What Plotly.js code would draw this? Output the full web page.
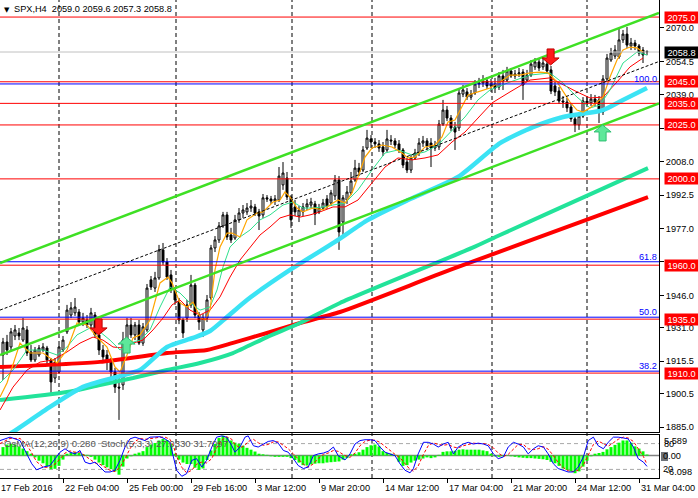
<!DOCTYPE html>
<html><head><meta charset="utf-8">
<script src="https://cdn.plot.ly/plotly-3.0.1.min.js"></script>
<style>html,body{margin:0;padding:0;background:#fff;}#chart{width:698px;height:498px;}</style>
</head><body><div id="chart"></div>
<script>
const symbolName = 'SPX,H4';
const open = [1918.4,1924.4,1922.1,1927.2,1928.6,1925.3,1930.0,1919.8,1916.1,1918.4,
1920.7,1921.6,1916.1,1907.7,1910.5,1920.7,1929.1,1936.9,1937.9,1938.3,
1933.7,1934.6,1932.3,1936.9,1927.7,1920.7,1918.4,1915.1,1910.5,1903.5,
1904.5,1925.3,1932.3,1927.7,1932.3,1923.9,1930.0,1953.2,1949.4,1954.1,
1967.1,1961.5,1955.5,1948.5,1942.9,1934.6,1935.5,1941.6,1950.8,1936.9,
1930.0,1935.5,1944.8,1968.0,1971.7,1978.2,1983.3,1974.0,1972.6,1981.0,
1984.2,1984.7,1986.5,1987.0,1984.7,1983.3,1991.2,1990.7,1989.8,1990.2,
1997.2,2000.4,1991.6,1987.0,1982.8,1984.7,1987.0,1987.9,1988.4,1984.7,
1986.5,1990.7,1988.8,1992.1,1999.5,1980.0,1990.2,1993.5,1999.5,2005.0,
2004.1,2014.3,2018.5,2017.1,2016.2,2014.8,2013.4,2018.0,2017.6,2016.2,
2013.4,2007.8,2004.1,2009.7,2012.0,2016.6,2017.6,2016.6,2014.3,2014.8,
2025.4,2031.9,2028.2,2024.0,2023.6,2039.3,2040.3,2037.9,2039.8,2044.0,
2044.4,2045.4,2043.1,2044.0,2042.6,2047.7,2045.8,2050.0,2047.7,2048.6,
2049.5,2045.8,2048.1,2051.9,2054.2,2051.9,2053.2,2050.5,2043.1,2040.7,
2036.1,2035.6,2033.3,2027.8,2025.0,2029.1,2036.1,2035.2,2037.0,2036.6,
2031.0,2046.3,2055.1,2056.9,2056.5,2064.4,2067.1,2061.6,2063.0,2061.6,
2059.7,2059.0];
const high = [1926.3,1927.7,1930.9,1932.3,1930.9,1935.5,1931.8,1923.0,1922.1,1923.0,
1923.9,1922.6,1917.0,1917.0,1923.0,1927.2,1941.6,1942.9,1944.8,1939.7,
1937.9,1936.9,1940.2,1938.3,1929.1,1923.0,1920.7,1917.0,1912.4,1909.1,
1929.1,1935.5,1935.5,1933.7,1934.6,1933.2,1951.3,1955.0,1956.9,1969.4,
1970.3,1963.3,1957.8,1949.9,1944.8,1935.5,1943.9,1955.5,1951.8,1938.3,
1937.4,1946.2,1969.4,1973.5,1980.0,1984.7,1984.7,1977.3,1983.3,1986.5,
1987.9,1988.8,1990.2,1988.4,1986.1,1993.0,1992.5,1992.1,1992.5,2005.5,
2007.8,2003.2,1992.5,1990.2,1987.4,1988.8,1990.7,1991.2,1989.8,1988.4,
1990.7,1992.5,1994.9,2001.8,2001.3,1992.5,1996.7,2003.2,2008.8,2007.4,
2015.2,2022.7,2020.3,2018.9,2018.0,2017.1,2022.7,2020.3,2018.9,2018.0,
2014.3,2009.7,2011.1,2013.9,2018.9,2019.9,2018.9,2018.9,2017.6,2027.3,
2036.6,2033.8,2029.6,2026.4,2042.1,2043.5,2042.1,2041.2,2045.8,2046.8,
2048.1,2047.2,2046.3,2046.8,2049.5,2050.5,2051.9,2051.4,2050.5,2051.4,
2050.9,2050.5,2055.1,2056.0,2056.0,2056.0,2056.0,2052.3,2044.9,2042.6,
2038.4,2037.5,2034.7,2029.6,2031.0,2037.9,2038.4,2039.3,2038.9,2038.4,
2048.1,2057.9,2060.7,2062.0,2069.9,2069.0,2070.4,2065.3,2064.4,2062.5,
2061.1,2059.6];
const low = [1906.8,1918.4,1920.7,1925.3,1925.3,1924.4,1917.9,1915.1,1915.1,1917.5,
1919.8,1913.8,1900.8,1905.4,1909.6,1919.8,1928.1,1935.5,1936.5,1932.3,
1931.8,1930.9,1930.9,1926.3,1918.4,1915.1,1911.4,1907.7,1900.8,1888.3,
1902.2,1923.0,1926.3,1925.3,1923.0,1922.6,1929.1,1948.5,1947.6,1953.2,
1960.1,1953.2,1947.1,1941.6,1932.7,1926.3,1933.7,1940.2,1935.5,1930.0,
1926.7,1933.7,1943.9,1966.1,1970.3,1977.3,1971.7,1970.3,1971.7,1979.6,
1981.9,1983.3,1984.7,1982.8,1976.3,1981.9,1989.3,1988.4,1987.9,1989.3,
1994.9,1990.2,1977.3,1982.8,1980.0,1982.8,1985.6,1986.5,1978.6,1983.7,
1985.6,1986.1,1987.4,1990.2,1967.1,1974.0,1988.4,1992.5,1998.6,2001.3,
2003.2,2013.4,2014.3,2014.3,2012.5,2010.6,2012.5,2015.7,2014.3,2012.0,
2005.0,2002.7,2002.7,2008.8,2010.6,2014.8,2013.4,2005.5,2012.9,2013.4,
2024.5,2026.8,2022.2,2013.4,2022.2,2037.9,2036.6,2036.6,2038.9,2042.1,
2042.6,2041.7,2040.3,2039.8,2041.2,2041.2,2044.9,2046.8,2046.3,2047.2,
2036.6,2044.9,2047.2,2050.5,2050.0,2050.5,2048.6,2039.3,2038.4,2034.7,
2032.9,2031.0,2026.4,2021.7,2022.7,2028.2,2033.8,2033.8,2033.8,2025.9,
2029.6,2044.9,2054.2,2055.6,2055.6,2063.0,2060.7,2059.7,2059.7,2056.9,
2053.7,2057.3];
const close = [1924.4,1920.7,1929.1,1930.0,1927.2,1930.9,1919.3,1916.1,1920.7,1921.6,
1922.1,1916.1,1905.9,1915.1,1922.1,1925.3,1939.2,1940.2,1940.6,1933.7,
1935.5,1932.3,1937.9,1927.7,1920.7,1917.5,1915.1,1910.5,1903.5,1903.1,
1925.3,1932.3,1927.7,1932.3,1923.9,1931.4,1949.4,1949.9,1954.1,1967.1,
1961.5,1954.5,1948.5,1943.9,1934.6,1928.6,1941.6,1950.8,1936.9,1933.7,
1935.5,1943.9,1968.0,1971.7,1978.2,1983.3,1973.1,1971.7,1981.0,1984.2,
1985.6,1986.5,1987.4,1984.2,1982.8,1991.2,1990.7,1989.8,1990.7,2001.3,
2002.7,1991.6,1981.0,1984.7,1985.6,1987.0,1988.4,1989.3,1983.7,1986.5,
1988.8,1987.4,1993.5,1999.5,1975.4,1991.2,1993.9,1999.0,2005.0,2003.2,
2013.4,2018.9,2017.1,2016.2,2014.3,2012.5,2018.5,2017.6,2015.7,2013.4,
2006.4,2004.1,2009.7,2012.0,2016.6,2017.6,2015.2,2014.3,2015.7,2025.4,
2031.9,2028.2,2023.6,2021.7,2039.8,2041.2,2037.9,2039.3,2044.0,2044.4,
2045.4,2043.1,2044.0,2042.1,2047.7,2045.4,2050.0,2047.7,2048.6,2049.1,
2043.5,2048.1,2053.2,2054.2,2051.4,2053.7,2050.0,2040.7,2040.3,2036.1,
2035.6,2032.9,2027.8,2025.0,2029.1,2036.1,2035.2,2037.0,2035.6,2031.5,
2046.3,2056.0,2058.3,2059.7,2064.4,2067.1,2062.0,2063.0,2061.6,2058.3,
2057.4,2058.8];

const osma = [2.3,3.0,3.2,3.0,2.5,1.9,1.2,0.5,-0.5,-1.4,
-2.1,-3.0,-3.7,-3.6,-2.8,-1.1,0.5,0.8,0.9,0.7,
0.4,0.2,-0.35,-1.1,-1.9,-2.6,-3.2,-3.7,-4.3,-5.2,
-3.0,-0.8,-0.2,0.5,0.8,1.2,2.3,3.0,3.4,4.1,
4.5,4.2,3.2,0.5,-1.1,-1.9,-2.3,-2.3,-3.3,-3.9,
-3.5,-1.2,1.4,3.2,4.8,5.4,5.0,4.1,3.5,3.2,
2.7,2.1,1.6,1.1,0.5,0.35,0.2,-0.2,-0.35,-0.35,
-0.35,-0.35,-0.7,-1.2,-1.9,-2.6,-2.7,-2.4,-2.2,-2.1,
-2.1,-1.9,-1.8,-1.7,-1.6,-1.1,-0.7,0.35,0.5,0.9,
1.6,2.3,2.8,3.0,2.5,1.2,0.7,0.5,0.2,-1.7,
-2.8,-2.6,-1.9,-1.4,-1.1,-0.8,-0.5,-0.7,-0.5,0.2,
1.0,1.15,1.15,1.3,1.6,1.7,1.6,1.6,1.6,1.6,
1.4,1.2,0.5,-0.2,-0.35,-0.2,-0.1,-0.2,-0.35,-0.5,
-0.6,-0.7,-0.7,-0.8,-0.9,-1.0,-1.2,-1.7,-2.1,-2.8,
-3.5,-3.9,-4.3,-4.8,-4.3,-3.0,-1.4,-0.2,0.5,0.7,
1.0,1.7,2.3,2.9,3.5,4.1,4.1,3.5,2.5,1.9,
1.15,0.28];

const stochX = [-0.75,1.75,4.25,5.9,7.2,8.4,10.1,11.75,13.4,14.25,
15.5,16.75,18,19.25,20.5,21.75,23,24.25,25.5,26.75,
28,29.25,30.5,31.75,33,34.25,35.5,36.75,38,39.25,
40.5,41.75,42.6,43.4,44.7,45.9,47.2,48.4,49.7,50.9,
52.2,53.4,54.7,55.9,57.2,58,59.25,60.5,61.3,62.6,
63.8,65.1,66.3,67.6,68.8,70.1,71.3,72.6,73.8,75.1,
76.3,77.6,78.8,80.1,81.3,82.6,83.8,85.5,86.75,88,
89.25,90.5,91.75,93,94.25,95.5,96.75,98,99.25,100.5,
101.75,102.6,103.8,105.1,106.3,107.6,108.8,110.1,111.3,112.6,
113.8,115.1,116.3,117.6,118.8,120.1,121.3,122.6,123.8,125.1,
126.3,127.6,128.8,130.1,131.3,132.6,133.8,135.1,136.3,137.6,
138.8,140.1,141.3,142.6,143.8,145.1,146.3,147.6,148.8,150.1,
151.3,152.6,153.8,155.1,156.3,157.6,158.8,160.1,161];
const stochMain = [87,95,87,56,33,19,25.5,29,49,60,
68,60,56,64,37,33,37,25.5,14,14,
18,41,72,91,95,91,87,95,96,96,
91,83,49,18,4,10,41,45,25.5,41,
72,95,98,95,75,60,72,95,98,75,
72,79,85,87,81,64,60,45,29,22,
25.5,52,56,58,62,72,52,42,56,79,
87,89,89,87,72,60,56,52,33,18,
12,22,56,83,83,79,72,79,83,56,
72,79,83,79,81,79,75,56,45,49,
72,83,79,72,56,68,75,72,56,33,
22,18,14,14,25.5,49,87,95,75,68,
83,95,95,93,91,72,45,37,27];
const stochSignal = [80,92,92,78,58,38,25,25,35,45,
58,63,60,60,52,42,35,32,25,18,
15,25,45,68,85,92,90,91,93,95,
95,90,75,50,25,12,18,32,37,35,
45,70,88,96,90,78,70,76,85,90,
82,76,78,84,84,76,68,56,44,32,
25,33,45,55,58,64,62,52,48,58,
75,85,88,88,83,73,63,55,47,33,
20,16,28,55,75,82,78,76,78,72,
70,75,78,81,80,80,78,70,58,50,
55,68,78,78,68,66,68,73,67,52,
36,24,17,15,18,30,55,78,86,80,
74,82,90,95,93,85,68,50,32];

const ma200X = [-0.75,24.25,41,51,57.5,66,74.25,84.25,111.75,149.25,161.25];
const ma200Y = [1912.8,1915.2,1919.3,1920.7,1924.0,1928.6,1933.2,1938.3,1957.8,1983.3,1991.6];
const ma100X = [-0.75,16,24.25,32.5,41,49.25,57.5,66,74.25,84.25,117.25,124.25,149.25,161.25];
const ma100Y = [1897.5,1901.2,1904.5,1907.7,1911.4,1914.7,1919.3,1926.7,1933.2,1942.5,1968.0,1974.0,1994.9,2005.0];
const ma50X = [-0.75,2.5,11.75,20,28.5,34.25,41,47.5,51.75,56,61,71.75,83,91.25,101.25,113.75,124.25,132.5,140,150,155,161];
const ma50Y = [1879.0,1882.7,1894.3,1903.6,1908.2,1911.4,1922.1,1926.3,1929.5,1936.0,1943.9,1957.8,1970.8,1981.0,1990.2,2000.9,2016.6,2024.0,2028.7,2031.9,2036.6,2042.1];

const fastX = [-0.75,1,4.25,6.75,10,13.5,16,18.5,21,23.5,26,28,29.25,31,32.5,34.25,36.75,39.25,41.25,42.25,
44.25,46,47.5,49.25,50.5,51.75,53,54.25,56,57.25,59.25,61,63.5,65,67.5,69.25,70.5,71.75,73.5,75,
77.5,80,82.5,83.75,85.5,87.25,88.75,90.5,92.25,94.75,97.25,99.75,101.25,103,105.5,108,109.75,111.25,113,114.75,
116.25,118.75,121.75,124.25,126.75,129.25,131.75,134.25,136.25,138.5,140,141.75,143.5,145,146.75,148.5,150,151.75,153.5,155,
156.75,158.5,160];
const fastY = [1898.9,1905.4,1923.9,1919.3,1919.3,1914.7,1920.7,1933.2,1932.3,1926.7,1922.1,1912.8,1910.5,1918.4,1926.3,1927.7,1934.6,1951.8,1954.5,1951.8,
1942.5,1940.6,1942.9,1936.0,1934.6,1939.2,1957.8,1968.4,1974.9,1974.9,1973.1,1981.0,1984.2,1984.7,1989.3,1990.2,1993.9,1991.6,1986.5,1984.7,
1986.5,1985.6,1988.8,1990.2,1988.8,1993.5,2000.9,2010.1,2014.3,2015.7,2014.8,2012.0,2009.7,2010.1,2014.8,2015.7,2019.4,2026.4,2027.3,2033.3,
2038.9,2040.3,2042.1,2044.9,2048.1,2048.1,2049.1,2049.5,2049.1,2044.9,2040.3,2035.6,2031.9,2031.0,2032.9,2035.6,2037.9,2047.2,2055.1,2059.7,
2061.1,2060.7,2058.8];
const midX = [-0.75,2.5,6,10,13.5,16,18.5,21.75,24.25,26.75,29.25,31.75,34.25,36.75,39.25,41.75,44.25,46.75,49.25,51.75,
53.5,55,56.75,59.25,61.75,64.25,66.75,70,72.5,75,77.5,80,82.5,85.5,88.75,92.25,95.5,98.75,102.25,105.5,
108.75,112.25,115.5,118.75,121.75,126.75,131.75,136.75,140,143.5,146.75,149.25,151.75,155,158.5,161];
const midY = [1905.4,1911.4,1920.7,1920.7,1918.4,1922.1,1927.7,1930.9,1929.1,1925.3,1920.7,1923.9,1925.3,1930.0,1940.6,1949.9,1947.1,1942.5,1939.2,1940.6,
1948.5,1959.2,1968.4,1973.1,1976.3,1981.0,1983.3,1987.9,1989.3,1986.5,1986.5,1987.0,1987.9,1988.8,1994.9,2004.1,2012.0,2013.4,2011.1,2012.5,
2015.7,2022.7,2028.7,2036.6,2041.2,2044.9,2048.1,2049.1,2044.4,2037.9,2032.9,2034.2,2041.2,2053.7,2058.8,2057.4];
const slowX = [-0.75,2.5,6,9.25,12.5,16,19.25,22.5,25,27.5,30,32.5,35,37.5,40,42.25,44.25,46.75,49.25,51.75,
54.25,56.75,59.25,61.75,64.25,66.75,69.25,71.75,74.25,76.75,79.25,82.5,85.5,88.75,92.25,95.5,98.75,102.25,105.5,108.75,
112.25,115.5,118.75,122.25,126.75,131.75,136.75,140,143.5,146.75,150,153.5,156.75,160];
const slowY = [1892.9,1903.5,1911.4,1915.1,1916.1,1919.8,1923.9,1926.7,1925.3,1922.1,1921.6,1923.9,1925.3,1930.0,1935.5,1941.6,1943.9,1939.2,1936.9,1939.2,
1945.3,1954.5,1962.4,1968.4,1974.0,1977.7,1981.9,1983.3,1982.3,1983.3,1984.7,1987.0,1987.0,1990.2,1998.1,2005.5,2009.7,2008.8,2009.7,2011.1,
2017.1,2021.7,2028.2,2035.2,2040.3,2045.8,2046.8,2043.5,2040.3,2037.5,2037.9,2044.9,2051.9,2056.0];

const priceTicks = [2070.0,2054.5,2039.0,2023.5,2008.0,1992.5,1977.0,1961.5,1946.0,1931.0,1915.5,1900.5,1885.0];
const hiddenTicks = [2023.5,1961.5];
const redLevels = [2075,2045,2035,2025,2000,1960,1935,1910];
const fibLevels = [2044.0,1961.6,1935.9,1910.9];
const fibLabels = ['100.0','61.8','50.0','38.2'];
const bidPrice = 2058.8;
const dateLabels = ['17 Feb 2016','22 Feb 04:00','25 Feb 00:00','29 Feb 16:00','3 Mar 12:00','9 Mar 20:00','14 Mar 12:00','17 Mar 04:00','21 Mar 20:00','24 Mar 12:00','31 Mar 04:00'];
const dateBars = [-0.75,15,31,47,63,79,95,111,127,143,159];
const gridBars = [14,43.25,72.25,92.25,122.25,146];
const trendBars = [-0.75,164];
const channelUpper = [1961.0,2076.9];
const channelLower = [1918.4,2035.0];
const trendBlack = [1939.2,2054.4];
const sellArrowBars = [23.9,136.9];
const sellArrowPrices = [1927.7,2052.8];
const buyArrowBars = [30.9,149.9];
const buyArrowPrices = [1926.7,2025.0];
const osmaRange = [-6.098,5.589];
const stochLevels = [80,20];
const indicatorValues = {osma:0.280, main:27.0330, signal:31.7097};

const FONT = 'Liberation Sans, Arial, sans-serif';
const FS = 9.2;
const n = open.length;
const bars = open.map((_, i) => i);
const xRange = [-0.75, 164];
const H = 478;
const P = (px) => (H - px) / H;

const traces = [
  {type:'candlestick', x:bars, open:open, high:high, low:low, close:close, xaxis:'x', yaxis:'y',
   increasing:{line:{color:'#000', width:1}, fillcolor:'#ffffff'},
   decreasing:{line:{color:'#000', width:1}, fillcolor:'#000000'},
   whiskerwidth:0, hoverinfo:'skip'},
  {type:'scatter', mode:'lines', x:ma200X, y:ma200Y, line:{color:'#ff0000', width:4, shape:'spline', smoothing:0.6}, hoverinfo:'skip'},
  {type:'scatter', mode:'lines', x:ma100X, y:ma100Y, line:{color:'#22e39a', width:4, shape:'spline', smoothing:0.6}, hoverinfo:'skip'},
  {type:'scatter', mode:'lines', x:ma50X, y:ma50Y, line:{color:'#3be3f4', width:4.5, shape:'spline', smoothing:0.6}, hoverinfo:'skip'},
  {type:'scatter', mode:'lines', x:slowX, y:slowY, line:{color:'#ff0000', width:1}, hoverinfo:'skip'},
  {type:'scatter', mode:'lines', x:midX, y:midY, line:{color:'#2fe08c', width:1}, hoverinfo:'skip'},
  {type:'scatter', mode:'lines', x:fastX, y:fastY, line:{color:'#ffa500', width:1.2}, hoverinfo:'skip'},
  {type:'bar', x:bars, y:osma, xaxis:'x2', yaxis:'y2', marker:{color:'#00ff00', line:{width:0}}, hoverinfo:'skip'},
  {type:'scatter', mode:'lines', x:stochX, y:stochSignal, xaxis:'x2', yaxis:'y3', line:{color:'#ff0000', width:1, dash:'3px,2px'}, hoverinfo:'skip'},
  {type:'scatter', mode:'lines', x:stochX, y:stochMain, xaxis:'x2', yaxis:'y3', line:{color:'#0000ff', width:1}, hoverinfo:'skip'}
];

const shapes = [];
gridBars.forEach(b => shapes.push({type:'line', xref:'x', yref:'paper', x0:b, x1:b, y0:0, y1:1, layer:'below', line:{color:'#000', width:1, dash:'4px,3px'}}));
shapes.push({type:'line', xref:'paper', yref:'y', x0:0, x1:1, y0:bidPrice, y1:bidPrice, line:{color:'#c0c0c0', width:1}});
redLevels.forEach(p => shapes.push({type:'line', xref:'paper', yref:'y', x0:0, x1:1, y0:p, y1:p, line:{color:'#ff0000', width:1}}));
fibLevels.forEach(p => shapes.push({type:'line', xref:'paper', yref:'y', x0:0, x1:1, y0:p, y1:p, line:{color:'#0000ff', width:1}}));
[channelUpper, channelLower].forEach(c => shapes.push({type:'line', xref:'x', yref:'y', x0:trendBars[0], x1:trendBars[1], y0:c[0], y1:c[1], line:{color:'#3ee024', width:2.5}}));
shapes.push({type:'line', xref:'x', yref:'y', x0:trendBars[0], x1:trendBars[1], y0:trendBlack[0], y1:trendBlack[1], line:{color:'#000', width:1, dash:'3px,2px'}});
stochLevels.forEach(v => shapes.push({type:'line', xref:'paper', yref:'y3', x0:0, x1:1, y0:v, y1:v, layer:'below', line:{color:'#a8a8a8', width:1, dash:'4px,3px'}}));
shapes.push({type:'line', xref:'paper', yref:'y2', x0:0, x1:1, y0:0, y1:0, layer:'below', line:{color:'#808080', width:1.5}});
sellArrowBars.forEach((b, k) => shapes.push({type:'path', xref:'x', yref:'y', xsizemode:'pixel', ysizemode:'pixel', xanchor:b, yanchor:sellArrowPrices[k],
  path:'M0,0 L-8.5,7 L-3.5,7 L-3.5,16 L3.5,16 L3.5,7 L8.5,7 Z', fillcolor:'#ff1a1a', line:{color:'#c00000', width:1}}));
buyArrowBars.forEach((b, k) => shapes.push({type:'path', xref:'x', yref:'y', xsizemode:'pixel', ysizemode:'pixel', xanchor:b, yanchor:buyArrowPrices[k],
  path:'M0,0 L-8.5,-7 L-3.5,-7 L-3.5,-16 L3.5,-16 L3.5,-7 L8.5,-7 Z', fillcolor:'#5ee89a', line:{color:'#2fbf73', width:1}}));
shapes.push({type:'rect', xref:'paper', yref:'paper', x0:1 + 2/659, x1:1 + 9/659, y0:P(461), y1:P(452), line:{width:0}, fillcolor:'#6e7379'});

const annotations = [];
const last = n - 1;
annotations.push({xref:'paper', yref:'paper', x:0, y:1, xanchor:'left', yanchor:'top', xshift:2, yshift:-4, text:'\u25BC', showarrow:false, font:{family:'DejaVu Sans', size:7, color:'#000'}});
annotations.push({xref:'paper', yref:'paper', x:0, y:1, xanchor:'left', yanchor:'top', xshift:12, yshift:-2, showarrow:false, font:{size:FS, color:'#000'},
  text: symbolName + '\u00a0\u00a0' + [open[last], high[last], low[last], close[last]].map(v => v.toFixed(1)).join(' ')});
redLevels.forEach(p => annotations.push({xref:'paper', yref:'y', x:1, y:p, xanchor:'left', yanchor:'middle', xshift:5, text:p.toFixed(1), showarrow:false,
  bgcolor:'#ff0000', font:{color:'#ffffff', size:FS}, width:31, height:9, borderpad:1}));
annotations.push({xref:'paper', yref:'y', x:1, y:bidPrice, xanchor:'left', yanchor:'middle', xshift:5, text:bidPrice.toFixed(1), showarrow:false,
  bgcolor:'#000000', font:{color:'#ffffff', size:FS}, width:31, height:9, borderpad:1});
fibLevels.forEach((p, k) => annotations.push({xref:'paper', yref:'y', x:1, y:p, xanchor:'right', yanchor:'bottom', xshift:-1, yshift:-1, text:fibLabels[k], showarrow:false,
  font:{color:'#0000ff', size:FS}, borderpad:0}));
annotations.push({xref:'paper', yref:'paper', x:0, y:P(443), xanchor:'left', yanchor:'middle', xshift:2, showarrow:false, font:{size:9.6, color:'#555555'},
  text:'OsMA(12,26,9) ' + indicatorValues.osma.toFixed(3) + '\u00a0\u00a0Stoch(5,3,3) ' + indicatorValues.main.toFixed(4) + ' ' + indicatorValues.signal.toFixed(4)});
const indLab = [
  {t: osmaRange[1].toFixed(3), py:440.5, dx:4},
  {t: String(stochLevels[0]), py:443.5, dx:4},
  {t: (0).toFixed(2), py:455.5, dx:3},
  {t: String(stochLevels[1]), py:469, dx:3},
  {t: osmaRange[0].toFixed(3), py:471.5, dx:6}
];
indLab.forEach(o => annotations.push({xref:'paper', yref:'paper', x:1, y:P(o.py), xanchor:'left', yanchor:'middle', xshift:o.dx, text:o.t, showarrow:false, borderpad:0, font:{size:FS, color:'#000'}}));
dateLabels.forEach((t, k) => annotations.push({xref:'x2', yref:'paper', x:dateBars[k], y:0, xanchor:'left', yanchor:'top', xshift:k === 0 ? -1 : 0, yshift:-3, text:t, showarrow:false, font:{size:FS, color:'#000'}}));

const layout = {
  width:698, height:498,
  margin:{l:0, r:39, t:0, b:20, pad:0},
  paper_bgcolor:'#ffffff', plot_bgcolor:'#ffffff',
  showlegend:false,
  font:{family:FONT, size:FS, color:'#000'},
  bargap:0.25,
  xaxis:{domain:[0,1], range:xRange, anchor:'y', showgrid:false, zeroline:false, showticklabels:false, ticks:'', showline:true, linecolor:'#000', linewidth:1, rangeslider:{visible:false}, fixedrange:true},
  yaxis:{domain:[46/478,1], range:[1882.7,2082.9], side:'right', anchor:'x', showgrid:false, zeroline:false, showline:true, linecolor:'#000', linewidth:1,
    ticks:'outside', ticklen:4, tickcolor:'#000', tickwidth:1, tickvals:priceTicks,
    ticktext:priceTicks.map(v => hiddenTicks.includes(v) ? '' : v.toFixed(1)), tickfont:{size:FS, color:'#000'}},
  xaxis2:{domain:[0,1], range:xRange, anchor:'y2', showgrid:false, zeroline:false, showticklabels:false, ticks:'outside', ticklen:4, tickcolor:'#000',
    tickvals:dateBars.slice(1), showline:true, mirror:true, linecolor:'#000', linewidth:1},
  yaxis2:{domain:[0,43/478], range:osmaRange, side:'right', anchor:'x2', showgrid:false, zeroline:false, showticklabels:false, ticks:'', showline:true, linecolor:'#000', linewidth:1},
  yaxis3:{overlaying:'y2', anchor:'x2', range:[0,100], visible:false},
  shapes:shapes,
  annotations:annotations
};

Plotly.newPlot('chart', traces, layout, {staticPlot:true, displayModeBar:false});
</script>
</body></html>
